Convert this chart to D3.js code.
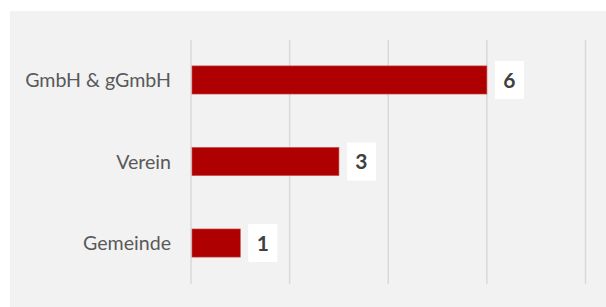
<!DOCTYPE html>
<html><head><meta charset="utf-8">
<script src="https://cdn.jsdelivr.net/npm/d3@7"></script>
<style>body{margin:0;background:#fff;} svg{display:block;}</style>
</head><body>
<script>
const categories = ["GmbH & gGmbH", "Verein", "Gemeinde"];
const values = [6, 3, 1];
const xTicks = [0, 2, 4, 6, 8];

const W = 606, H = 307;
const svg = d3.select("body").append("svg").attr("width", W).attr("height", H);
svg.append("rect").attr("x", 10).attr("y", 11).attr("width", W - 10).attr("height", H - 11).attr("fill", "#f2f2f2");

const x = d3.scaleLinear().domain([0, 8]).range([191, 585.5]);
const y = d3.scaleBand().domain(categories).range([39, 284]).paddingInner(0.655).paddingOuter(0.33);

svg.append("g").selectAll("line").data(xTicks).join("line")
  .attr("x1", d => x(d)).attr("x2", d => x(d))
  .attr("y1", 40).attr("y2", 284)
  .attr("stroke", "#d9d9d9").attr("stroke-width", 1.5);

svg.append("g").selectAll("rect").data(values).join("rect")
  .attr("x", x(0) + 1).attr("y", (d, i) => y(categories[i]))
  .attr("width", d => x(d) - x(0) - 1).attr("height", y.bandwidth())
  .attr("fill", "#ae0000").attr("stroke", "#c94b4b").attr("stroke-width", 0.6);

svg.append("g").selectAll("text").data(categories).join("text")
  .attr("x", 171).attr("y", d => y(d) + y.bandwidth() / 2)
  .attr("dy", "0.36em").attr("text-anchor", "end")
  .attr("font-family", "Lato").attr("font-size", 19.6).attr("fill", "#595959")
  .text(d => d);

const lab = svg.append("g").selectAll("g").data(values).join("g")
  .attr("transform", (d, i) => `translate(${x(d) + 8},${y(categories[i]) + y.bandwidth() / 2})`);
lab.append("rect").attr("x", 0).attr("y", -19).attr("width", 29).attr("height", 38).attr("fill", "#fff");
lab.append("text").attr("x", 14.5).attr("dy", "0.36em").attr("text-anchor", "middle")
  .attr("font-family", "Lato").attr("font-weight", "bold").attr("font-size", 21).attr("fill", "#404040")
  .text(d => d);
</script>
</body></html>
